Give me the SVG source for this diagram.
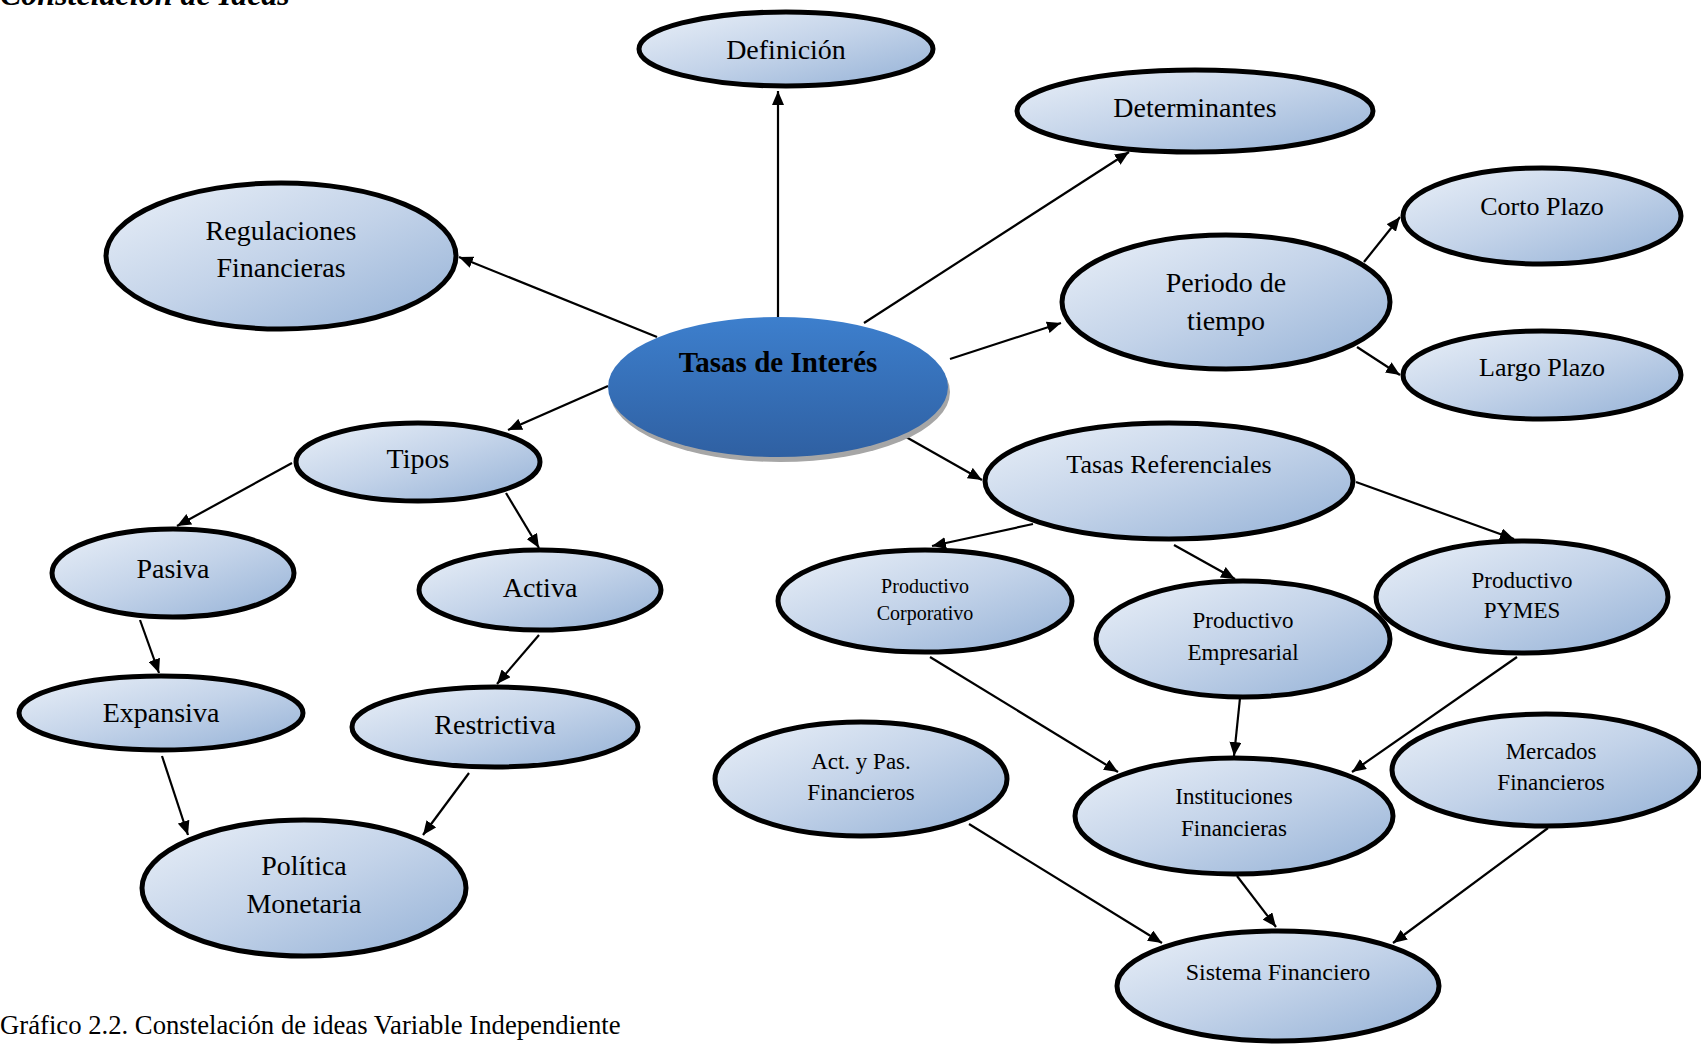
<svg xmlns="http://www.w3.org/2000/svg" width="1701" height="1046" viewBox="0 0 1701 1046">
<defs>
<linearGradient id="lg" x1="0" y1="0" x2="1" y2="1">
<stop offset="0" stop-color="#eaf0f8"/>
<stop offset="0.5" stop-color="#c3d3e9"/>
<stop offset="1" stop-color="#94b1d6"/>
</linearGradient>
<linearGradient id="cg" x1="0" y1="0" x2="0" y2="1">
<stop offset="0" stop-color="#3d7fcd"/>
<stop offset="1" stop-color="#2f60a2"/>
</linearGradient>
<marker id="ah" markerUnits="userSpaceOnUse" markerWidth="14" markerHeight="12" refX="14" refY="6" orient="auto">
<path d="M0,0 L14,6 L0,12 z" fill="#000"/>
</marker>
</defs>
<style>
.n{fill:url(#lg);stroke:#000;stroke-width:5}
.t{font-family:"Liberation Serif","Times New Roman",serif;fill:#000;text-anchor:middle}
.c line{stroke:#000;stroke-width:2.2;marker-end:url(#ah)}
</style>
<text x="0" y="5" style="font-family:'Liberation Serif',serif;font-size:32px;font-weight:bold;font-style:italic">Constelación de Ideas</text>
<g class="c">
<line x1="778" y1="317" x2="778" y2="91"/>
<line x1="864" y1="323" x2="1129" y2="152"/>
<line x1="657" y1="337" x2="459" y2="257"/>
<line x1="950" y1="359" x2="1061" y2="323"/>
<line x1="608" y1="386" x2="508" y2="430"/>
<line x1="899" y1="433" x2="982" y2="480"/>
<line x1="1364" y1="262" x2="1400" y2="217"/>
<line x1="1357" y1="347" x2="1400" y2="375"/>
<line x1="1033" y1="524" x2="932" y2="546"/>
<line x1="1174" y1="545" x2="1235" y2="579"/>
<line x1="1356" y1="482" x2="1514" y2="539"/>
<line x1="292" y1="463" x2="177" y2="526"/>
<line x1="506" y1="493" x2="539" y2="548"/>
<line x1="140" y1="620" x2="159" y2="673"/>
<line x1="539" y1="635" x2="497" y2="684"/>
<line x1="162" y1="756" x2="188" y2="835"/>
<line x1="469" y1="773" x2="423" y2="835"/>
<line x1="930" y1="657" x2="1118" y2="772"/>
<line x1="1240" y1="698" x2="1234" y2="756"/>
<line x1="1517" y1="657" x2="1352" y2="772"/>
<line x1="969" y1="824" x2="1162" y2="943"/>
<line x1="1237" y1="876" x2="1276" y2="927"/>
<line x1="1548" y1="828" x2="1393" y2="943"/>
</g>
<g id="central">
<ellipse cx="780" cy="392" rx="170" ry="70" fill="#a6a6a6"/>
<ellipse cx="778" cy="387" rx="170" ry="70" fill="url(#cg)"/>
<text class="t" x="778" y="372" style="font-size:29px;font-weight:bold">Tasas de Interés</text>
</g>
<g id="definicion"><ellipse class="n" cx="786" cy="49" rx="147" ry="37"/><text class="t" x="786" y="59" font-size="28">Definición</text></g>
<g id="determinantes"><ellipse class="n" cx="1195" cy="111" rx="178" ry="41"/><text class="t" x="1195" y="117" font-size="28">Determinantes</text></g>
<g id="regulaciones"><ellipse class="n" cx="281" cy="256" rx="175" ry="73"/><text class="t" x="281" y="240" font-size="28">Regulaciones</text><text class="t" x="281" y="277" font-size="28">Financieras</text></g>
<g id="periodo"><ellipse class="n" cx="1226" cy="302" rx="164" ry="67"/><text class="t" x="1226" y="292" font-size="28">Periodo de</text><text class="t" x="1226" y="330" font-size="28">tiempo</text></g>
<g id="corto"><ellipse class="n" cx="1542" cy="216" rx="139" ry="48"/><text class="t" x="1542" y="215" font-size="26">Corto Plazo</text></g>
<g id="largo"><ellipse class="n" cx="1542" cy="375" rx="139" ry="44"/><text class="t" x="1542" y="376" font-size="26">Largo Plazo</text></g>
<g id="referenciales"><ellipse class="n" cx="1169" cy="481" rx="184" ry="58"/><text class="t" x="1169" y="473" font-size="26">Tasas Referenciales</text></g>
<g id="tipos"><ellipse class="n" cx="418" cy="462" rx="122" ry="39"/><text class="t" x="418" y="468" font-size="28">Tipos</text></g>
<g id="pasiva"><ellipse class="n" cx="173" cy="573" rx="121" ry="44"/><text class="t" x="173" y="578" font-size="28">Pasiva</text></g>
<g id="activa"><ellipse class="n" cx="540" cy="590" rx="121" ry="40"/><text class="t" x="540" y="597" font-size="28">Activa</text></g>
<g id="expansiva"><ellipse class="n" cx="161" cy="713" rx="142" ry="37"/><text class="t" x="161" y="722" font-size="28">Expansiva</text></g>
<g id="restrictiva"><ellipse class="n" cx="495" cy="727" rx="143" ry="40"/><text class="t" x="495" y="734" font-size="28">Restrictiva</text></g>
<g id="politica"><ellipse class="n" cx="304" cy="888" rx="162" ry="68"/><text class="t" x="304" y="875" font-size="28">Política</text><text class="t" x="304" y="913" font-size="28">Monetaria</text></g>
<g id="corporativo"><ellipse class="n" cx="925" cy="601" rx="147" ry="51"/><text class="t" x="925" y="593" font-size="20">Productivo</text><text class="t" x="925" y="620" font-size="20">Corporativo</text></g>
<g id="empresarial"><ellipse class="n" cx="1243" cy="639" rx="147" ry="58"/><text class="t" x="1243" y="628" font-size="23">Productivo</text><text class="t" x="1243" y="660" font-size="23">Empresarial</text></g>
<g id="pymes"><ellipse class="n" cx="1522" cy="597" rx="146" ry="56"/><text class="t" x="1522" y="588" font-size="23">Productivo</text><text class="t" x="1522" y="618" font-size="23">PYMES</text></g>
<g id="actpas"><ellipse class="n" cx="861" cy="779" rx="146" ry="57"/><text class="t" x="861" y="769" font-size="23">Act. y Pas.</text><text class="t" x="861" y="800" font-size="23">Financieros</text></g>
<g id="instituciones"><ellipse class="n" cx="1234" cy="816" rx="159" ry="58"/><text class="t" x="1234" y="804" font-size="23">Instituciones</text><text class="t" x="1234" y="836" font-size="23">Financieras</text></g>
<g id="mercados"><ellipse class="n" cx="1546" cy="770" rx="154" ry="56"/><text class="t" x="1551" y="759" font-size="23">Mercados</text><text class="t" x="1551" y="790" font-size="23">Financieros</text></g>
<g id="sistema"><ellipse class="n" cx="1278" cy="986" rx="161" ry="55"/><text class="t" x="1278" y="980" font-size="24">Sistema Financiero</text></g>
<text x="0" y="1034" style="font-family:'Liberation Serif',serif;font-size:26.7px">Gráfico 2.2. Constelación de ideas Variable Independiente</text>
</svg>
